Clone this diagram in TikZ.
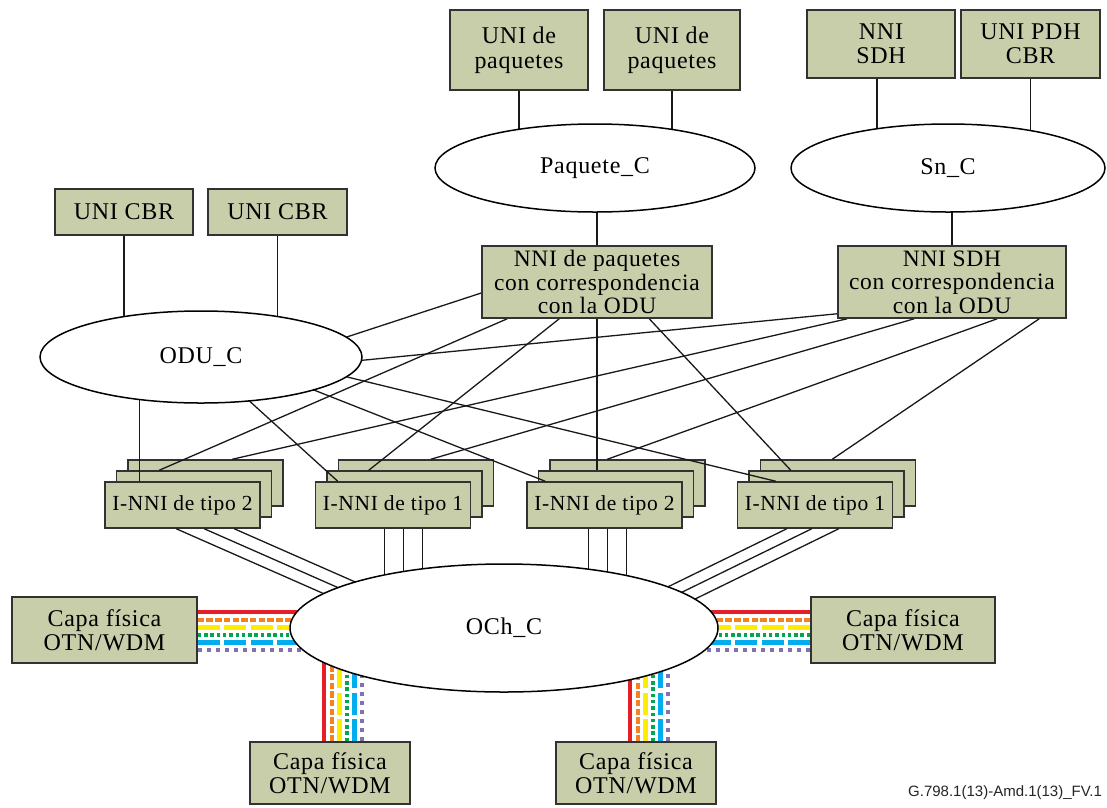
\documentclass[tikz,border=0pt]{standalone}
\usepackage{fontspec}
\setmainfont{Liberation Serif}[LetterSpace=3]
\newfontfamily\labelsans{Liberation Sans}
\usetikzlibrary{shapes.geometric,calc}
\pgfdeclarelayer{bgw}
\pgfdeclarelayer{stk}
\pgfdeclarelayer{lns}
\pgfsetlayers{bgw,stk,lns,main}
\definecolor{boxfill}{RGB}{200,205,170}
\definecolor{boxline}{RGB}{50,50,50}
\definecolor{cRed}{RGB}{230,30,40}
\definecolor{cOrange}{RGB}{245,130,32}
\definecolor{cYellow}{RGB}{255,237,0}
\definecolor{cGreen}{RGB}{0,166,81}
\definecolor{cBlue}{RGB}{0,174,239}
\definecolor{cPurple}{RGB}{128,112,180}
\newcommand{\mybundleh}[2]{%
  \draw[cred] ($(#1)+(0,-18)$) -- ($(#2)+(0,-18)$);
  \draw[corange] ($(#1)+(0,-10.4)$) -- ($(#2)+(0,-10.4)$);
  \draw[cyellow] ($(#1)+(0,-2.8)$) -- ($(#2)+(0,-2.8)$);
  \draw[cgreen] ($(#1)+(0,4.8)$) -- ($(#2)+(0,4.8)$);
  \draw[cblue] ($(#1)+(0,12.4)$) -- ($(#2)+(0,12.4)$);
  \draw[cpurple] ($(#1)+(0,20)$) -- ($(#2)+(0,20)$);}
\newcommand{\mybundlev}[2]{%
  \draw[cred] ($(#1)+(-6,0)$) -- ($(#2)+(-6,0)$);
  \draw[corange] ($(#1)+(1.6,0)$) -- ($(#2)+(1.6,0)$);
  \draw[cyellow] ($(#1)+(9.2,0)$) -- ($(#2)+(9.2,0)$);
  \draw[cgreen] ($(#1)+(16.8,0)$) -- ($(#2)+(16.8,0)$);
  \draw[cblue] ($(#1)+(24.4,0)$) -- ($(#2)+(24.4,0)$);
  \draw[cpurple] ($(#1)+(32,0)$) -- ($(#2)+(32,0)$);}
\begin{document}
\begin{tikzpicture}[x=1pt,y=-1pt,
  gbox/.style={draw=boxline,line width=1.5pt,fill=boxfill,inner sep=0pt,align=center,font=\fontsize{24}{24.5}\selectfont},
  inni/.style={gbox,minimum width=155pt,minimum height=46pt,font=\fontsize{21.5}{22}\selectfont},
  ell/.style={ellipse,draw=black,line width=1.5pt,fill=white,inner sep=0pt,font=\fontsize{24}{24.5}\selectfont},
  conn/.style={draw=black!90,line width=1.3pt},
  cred/.style={draw=cRed,line width=3.2pt},
  corange/.style={draw=cOrange,line width=4pt,dash pattern=on 6.5pt off 2.2pt},
  cyellow/.style={draw=cYellow,line width=4.8pt,dash pattern=on 22pt off 4.5pt},
  cgreen/.style={draw=cGreen,line width=4pt,dash pattern=on 3.5pt off 2.8pt},
  cblue/.style={draw=cBlue,line width=4.8pt,dash pattern=on 22pt off 4.5pt},
  cpurple/.style={draw=cPurple,line width=4pt,dash pattern=on 4.3pt off 4.7pt}]
\begin{pgfonlayer}{bgw}
\fill[white] (0,0) rectangle (1107,807);
\end{pgfonlayer}
\useasboundingbox (0,0) rectangle (1107,807);

% top boxes and ellipses
\node[gbox,minimum width=138pt,minimum height=80pt] (upa1) at (519,50) {UNI de\\paquetes};
\node[gbox,minimum width=136pt,minimum height=80pt] (upa2) at (672,50) {UNI de\\paquetes};
\node[gbox,minimum width=148pt,minimum height=68pt] (nsdh) at (881,44) {NNI\\SDH};
\node[gbox,minimum width=139pt,minimum height=68pt] (updh) at (1030.5,44) {UNI PDH\\CBR};
\node[ell,minimum width=320pt,minimum height=88pt] (pc) at (595,168) {Paquete\_C};
\node[ell,minimum width=314pt,minimum height=88pt] (snc) at (948,168) {Sn\_C};
\node[gbox,minimum width=138pt,minimum height=46pt] (ucbr1) at (124,212) {UNI CBR};
\node[gbox,minimum width=139pt,minimum height=46pt] (ucbr2) at (277.5,212) {UNI CBR};
\node[gbox,minimum width=230pt,minimum height=72pt,font=\fontsize{23.5}{23.5}\selectfont] (nnip) at (597,282) {NNI de paquetes\\con correspondencia\\con la ODU};
\node[gbox,minimum width=228pt,minimum height=72pt,font=\fontsize{23.5}{23.5}\selectfont] (nnis) at (952,282) {NNI SDH\\con correspondencia\\con la ODU};
\node[ell,minimum width=322pt,minimum height=92pt] (odu) at (201,357) {ODU\_C};
\node[ell,minimum width=428pt,minimum height=128pt] (och) at (504,628) {OCh\_C};

% physical layer boxes
\node[gbox,minimum width=185pt,minimum height=66pt] (cfl) at (104.5,630) {Capa física\\OTN/WDM};
\node[gbox,minimum width=184pt,minimum height=66pt] (cfr) at (903,630) {Capa física\\OTN/WDM};
\node[gbox,minimum width=160pt,minimum height=62pt] (cfbl) at (330,773) {Capa física\\OTN/WDM};
\node[gbox,minimum width=160pt,minimum height=62pt] (cfbr) at (636,773) {Capa física\\OTN/WDM};

% I-NNI stacks
\begin{pgfonlayer}{stk}
\node[inni] (s1b) at (205.5,483) {};
\node[inni] (s1m) at (194,494) {};
\node[inni] (s1f) at (182.5,505) {I-NNI de tipo 2};
\node[inni] (s2b) at (416,483) {};
\node[inni] (s2m) at (404.5,494) {};
\node[inni] (s2f) at (393,505) {I-NNI de tipo 1};
\node[inni] (s3b) at (627.5,483) {};
\node[inni] (s3m) at (616,494) {};
\node[inni] (s3f) at (604.5,505) {I-NNI de tipo 2};
\node[inni] (s4b) at (838,483) {};
\node[inni] (s4m) at (826.5,494) {};
\node[inni] (s4f) at (815,505) {I-NNI de tipo 1};
\end{pgfonlayer}

\node[anchor=west,inner sep=0pt,font=\labelsans\fontsize{15}{16}\selectfont,text=black!85] (ft) at (908,793) {G.798.1(13)-Amd.1(13)\_FV.1};

\begin{pgfonlayer}{lns}
% top connectors
\draw[conn] (upa1.south) -- (upa1.south |- pc.center);
\draw[conn] (upa2.south) -- (upa2.south |- pc.center);
\draw[conn] ($(nsdh.south)+(-4,0)$) coordinate (nsd) -- (nsd |- snc.center);
\draw[conn] (updh.south) -- (updh.south |- snc.center);
\draw[conn] (nnip.north) -- (nnip.north |- pc.center);
\draw[conn] (nnis.north) -- (nnis.north |- snc.center);
\draw[conn] (ucbr1.south) -- (ucbr1.south |- odu.center);
\draw[conn] (ucbr2.south) -- (ucbr2.south |- odu.center);
% ODU_C to stacks
\draw[conn] ($(s1f.north west)+(35,0)$) coordinate (o1) -- (o1 |- odu.center);
\draw[conn] (odu.center) -- ($(s2f.north west)+(23,0)$);
\draw[conn] ($(odu.center)+(52,9)$) -- ($(s3f.north west)+(19,0)$);
\draw[conn] ($(odu.center)+(46,-4.4)$) -- ($(s4f.north west)+(39,0)$);
% NNI boxes to ODU_C
\draw[conn] ($(nnip.west)+(0,11)$) -- ($(odu.center)+(46,12.6)$);
\draw[conn] ($(nnis.south west)+(0,-5)$) -- ($(odu.center)+(62,13)$);
% NNI de paquetes to stacks
\draw[conn] ($(nnip.south west)+(26,0)$) -- ($(s1m.north west)+(43.5,0)$);
\draw[conn] ($(nnip.south west)+(78,0)$) -- ($(s2m.north west)+(42.5,0)$);
\draw[conn] (nnip.south) -- (nnip.south |- s3m.north);
\draw[conn] ($(nnip.south west)+(168,0)$) -- ($(s4m.north west)+(42.5,0)$);
% NNI SDH to stacks
\draw[conn] ($(nnis.south west)+(10,0)$) -- ($(s1b.north west)+(105,0)$);
\draw[conn] ($(nnis.south west)+(77,0)$) -- ($(s2b.north west)+(93,0)$);
\draw[conn] ($(nnis.south west)+(160,0)$) -- ($(s3b.north west)+(58,0)$);
\draw[conn] ($(nnis.south west)+(202,0)$) -- ($(s4b.north west)+(72.5,0)$);
% stacks to OCh_C
\foreach \dx in {72,100,130}{
  \draw[conn] ($(s1f.south west)+(\dx,0)$) -- ($(s1f.south west)+(\dx+200,88)$);}
\foreach \dx in {70,89,108}{
  \draw[conn] ($(s2f.south west)+(\dx,0)$) coordinate (t) -- (t |- och.center);}
\foreach \dx in {62,81,100}{
  \draw[conn] ($(s3f.south west)+(\dx,0)$) coordinate (t) -- (t |- och.center);}
\foreach \dx in {50,75,102}{
  \draw[conn] ($(s4f.south west)+(\dx,0)$) -- ($(s4f.south west)+(\dx-180,88)$);}
% coloured fibre bundles
\coordinate (hl) at ($(cfl.east -| och.center)+(-84,0)$);
\coordinate (hr) at ($(cfr.west -| och.center)+(86,0)$);
\coordinate (vbl) at ($(cfbl.north |- och.center)+(0,12)$);
\coordinate (vbr) at ($(cfbr.north |- och.center)+(0,12)$);
\mybundleh{cfl.east}{hl}
\mybundleh{cfr.west}{hr}
\mybundlev{cfbl.north}{vbl}
\mybundlev{cfbr.north}{vbr}
\end{pgfonlayer}
\end{tikzpicture}
\end{document}
